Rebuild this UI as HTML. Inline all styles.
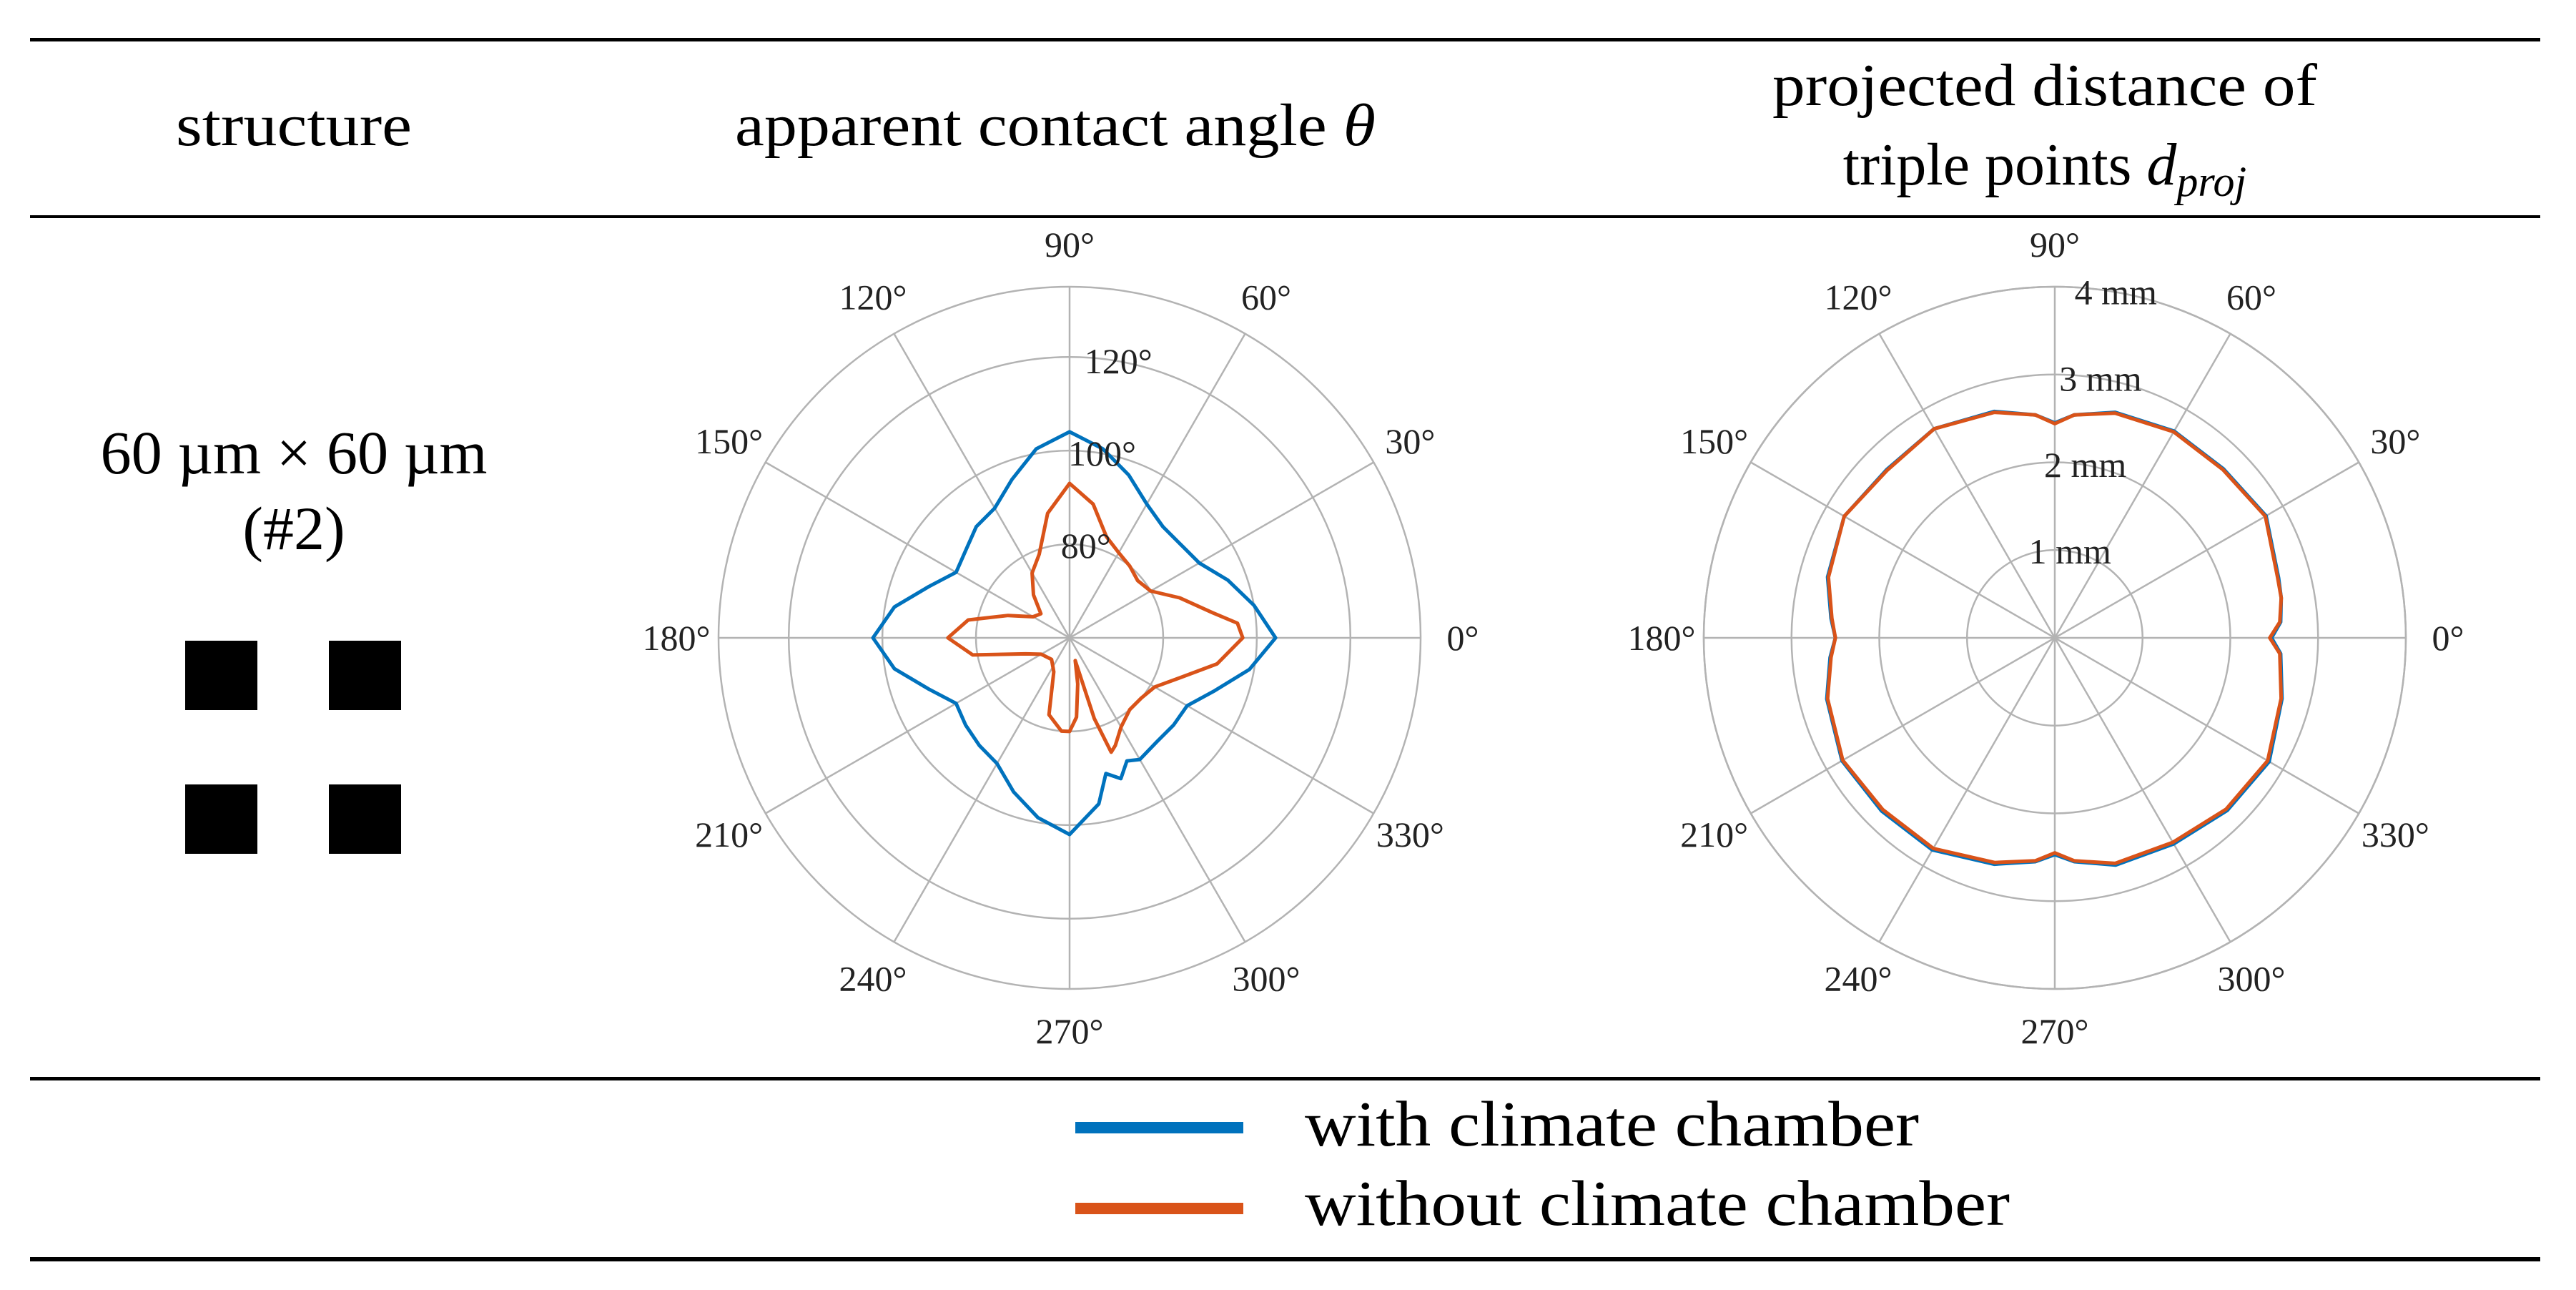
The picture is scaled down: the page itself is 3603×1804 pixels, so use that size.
<!DOCTYPE html>
<html><head><meta charset="utf-8"><style>
html,body{margin:0;padding:0;background:#fff;}
svg{display:block;font-family:"Liberation Serif",serif;}
</style></head><body>
<svg id="fig" width="3603" height="1804" viewBox="0 0 3603 1804" xmlns="http://www.w3.org/2000/svg">
<g>
<rect x="42" y="53" width="3511" height="5" fill="#000"/>
<rect x="42" y="301" width="3511" height="4" fill="#000"/>
<rect x="42" y="1506" width="3511" height="5" fill="#000"/>
<rect x="42" y="1758" width="3511" height="6" fill="#000"/>
</g>
<g font-size="84" fill="#000" text-anchor="middle">
<text x="411" y="203" textLength="330" lengthAdjust="spacingAndGlyphs">structure</text>
<text x="1476" y="203" textLength="896" lengthAdjust="spacingAndGlyphs">apparent contact angle <tspan font-style="italic">θ</tspan></text>
<text x="2860" y="147" textLength="762" lengthAdjust="spacingAndGlyphs">projected distance of</text>
<text x="2860" y="258">triple points <tspan font-style="italic">d</tspan><tspan font-style="italic" font-size="60" dy="16">proj</tspan></text>
<text x="411" y="662" font-size="86" textLength="541" lengthAdjust="spacingAndGlyphs">60 µm × 60 µm</text>
<text x="411" y="768" font-size="86">(#2)</text>
</g>
<g>
<rect x="259" y="896" width="101" height="97" fill="#000"/>
<rect x="460" y="896" width="101" height="97" fill="#000"/>
<rect x="259" y="1097" width="101" height="97" fill="#000"/>
<rect x="460" y="1097" width="101" height="97" fill="#000"/>
</g>
<g id="chart1"></g>
<g id="chart2"></g>
<g>
<rect x="1504" y="1569" width="235" height="16" fill="#0072BD"/>
<text x="1825" y="1602" font-size="90" textLength="859" lengthAdjust="spacingAndGlyphs">with climate chamber</text>
<rect x="1504" y="1682" width="235" height="16" fill="#D95319"/>
<text x="1825" y="1713" font-size="90" textLength="986" lengthAdjust="spacingAndGlyphs">without climate chamber</text>
</g>
</svg>
<script>
// Chart 1: apparent contact angle (deg) vs azimuth
const c1BlueAngles = [0,10,20,30,40,50,60,70,80,90,100,110,120,130,140,150,160,170,180,190,200,210,220,230,240,250,260,270,280,285,290,295,300,310,320,330,340,350];
const c1BlueValues = [104,100,96,92,91,91,93,97,101,104,101,96,92,91,89,88,92,98,102,98,92,88,89,90,91,95,99,102,96,90,92,89,90,89,89,89,93,99];
const c1OrangeAngles = [0,5,10,20,30,40,50,60,70,80,90,100,110,120,130,140,150,160,170,180,190,200,210,230,245,255,265,270,275,280,284,287,290,293,300,310,320,330,340,350];
const c1OrangeValues = [97,96,91,85,80,79,80,81,83,89,93,87,79,76,72,68,69,74,82,86,81,70,67,66,68,77,80,80,77,70,65,78,86,85,82,80,80,81,85,92];
const c1RTicks = [80,100,120];
const c1RTickLabels = ["80°","100°","120°"];
const c1RMin = 60, c1RMax = 135;
// Chart 2: projected distance (mm)
const c2Angles = [0,4,10,15,30,45,60,75,85,90,95,105,120,135,150,165,175,180,185,195,210,225,240,255,265,270,275,285,300,315,330,345,356];
const c2BlueValues = [2.47,2.58,2.62,2.64,2.78,2.72,2.72,2.66,2.55,2.45,2.55,2.67,2.75,2.71,2.77,2.68,2.56,2.5,2.57,2.69,2.8,2.79,2.79,2.67,2.56,2.47,2.56,2.68,2.71,2.78,2.82,2.68,2.58];
const c2OrangeValues = [2.45,2.57,2.62,2.63,2.77,2.71,2.71,2.65,2.55,2.44,2.55,2.66,2.75,2.7,2.77,2.67,2.55,2.5,2.56,2.68,2.79,2.77,2.77,2.65,2.55,2.45,2.55,2.66,2.69,2.76,2.8,2.67,2.57];
const c2RTicks = [1,2,3,4];
const c2RTickLabels = ["1 mm","2 mm","3 mm","4 mm"];
const c2RMin = 0, c2RMax = 4;
const angleTicks = [0,30,60,90,120,150,180,210,240,270,300,330];

const NS = "http://www.w3.org/2000/svg";
const R = 491;
function mk(tag, attrs, parent){const e=document.createElementNS(NS,tag);for(const k in attrs)e.setAttribute(k,attrs[k]);parent.appendChild(e);return e;}

function drawPolar(gid, cx, cy, rMin, rMax, rTicks, rLabels, series){
  const g = document.getElementById(gid);
  const rScale = v => (v - rMin) / (rMax - rMin) * R;
  const pt = (a, v) => { const t=a*Math.PI/180, r=rScale(v); return [cx + r*Math.cos(t), cy - r*Math.sin(t)]; };
  const grid = mk('g',{stroke:'#b3b3b3','stroke-width':2.5,fill:'none'},g);
  
  
  rTicks.forEach(v=>{ const c=mk('circle',{cx:cx,cy:cy,r:rScale(v)},grid);
    
     });
  const outer = mk('circle',{cx:cx,cy:cy,r:R},grid);
  
  
  angleTicks.forEach(a=>{ const t=a*Math.PI/180;
    const l=mk('line',{x1:cx,y1:cy,x2:cx+R*Math.cos(t),y2:cy-R*Math.sin(t)},grid);
    
    
    const lr = 550;
    const tx=mk('text',{x:cx+lr*Math.cos(t),y:cy-lr*Math.sin(t),'font-size':50,'text-anchor':'middle','dominant-baseline':'central',fill:'#222'},g);
    tx.textContent=a+'°';
    
     });
  series.forEach(s=>{
    const pts = s.angles.map((a,i)=>pt(a,s.values[i]).map(n=>n.toFixed(1)).join(',')).join(' ');
    const p=mk('polygon',{points:pts,fill:'none',stroke:s.color,'stroke-width':5,'stroke-linejoin':'round'},g);
    
    
  });
  rTicks.forEach((v,i)=>{ const t=80*Math.PI/180, r=rScale(v);
    const tx=mk('text',{x:cx+r*Math.cos(t),y:cy-r*Math.sin(t),'font-size':50,'text-anchor':'middle','dominant-baseline':'central',fill:'#222'},g);
    tx.textContent=rLabels[i];
    
     });
}
drawPolar('chart1',1496,892,c1RMin,c1RMax,c1RTicks,c1RTickLabels,[
  {angles:c1BlueAngles,values:c1BlueValues,color:'#0072BD',name:'series-with-climate-chamber'},
  {angles:c1OrangeAngles,values:c1OrangeValues,color:'#D95319',name:'series-without-climate-chamber'}]);
drawPolar('chart2',2874,892,c2RMin,c2RMax,c2RTicks,c2RTickLabels,[
  {angles:c2Angles,values:c2BlueValues,color:'#0072BD',name:'series-with-climate-chamber'},
  {angles:c2Angles,values:c2OrangeValues,color:'#D95319',name:'series-without-climate-chamber'}]);
</script>
</body></html>
